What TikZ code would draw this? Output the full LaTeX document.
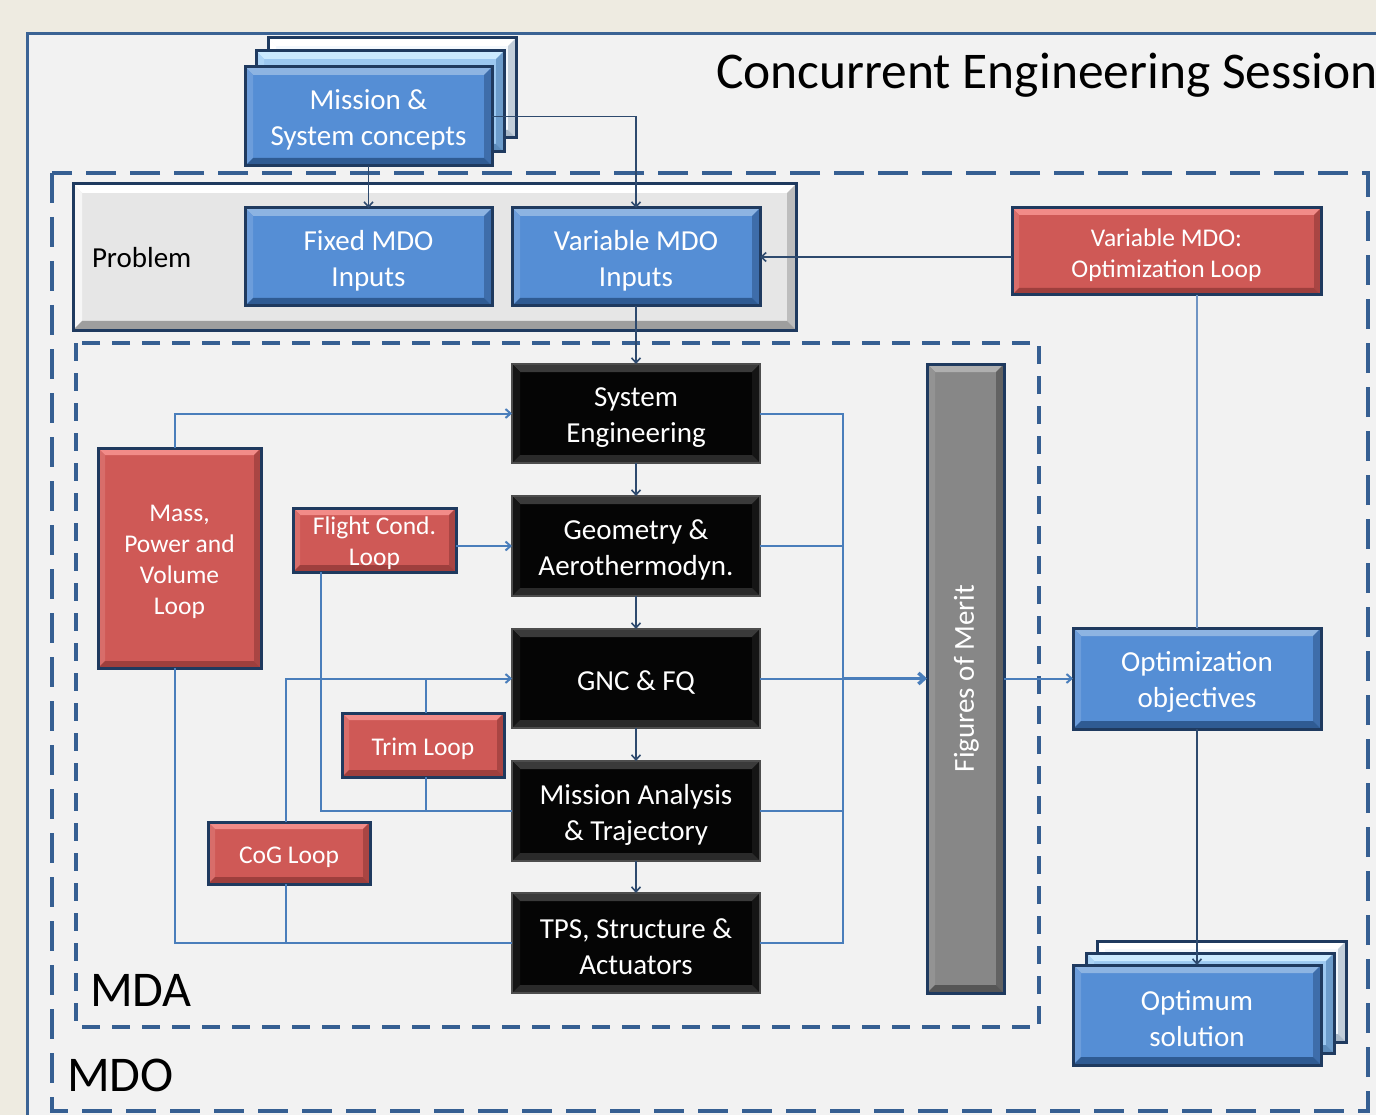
\documentclass[tikz,border=0pt]{standalone}
\usepackage{fontspec}
\setmainfont{Carlito}
\usetikzlibrary{arrows.meta,calc}

\definecolor{bgc}{HTML}{EEEBE1}
\definecolor{panelc}{HTML}{F2F2F2}
\definecolor{framec}{HTML}{3B6394}
\definecolor{dashc}{HTML}{365F92}
\definecolor{navyc}{HTML}{1F3A5F}
\definecolor{bluef}{HTML}{558ED5}
\definecolor{bluet}{HTML}{8DB4E2}
\definecolor{bluel}{HTML}{6C9DDB}
\definecolor{bluer}{HTML}{3E6DAA}
\definecolor{blueb}{HTML}{2F5B93}
\definecolor{redf}{HTML}{CF5956}
\definecolor{redt}{HTML}{F28B88}
\definecolor{redl}{HTML}{D86D6A}
\definecolor{redr}{HTML}{A94543}
\definecolor{redb}{HTML}{9E3F3D}
\definecolor{blkf}{HTML}{050505}
\definecolor{blkt}{HTML}{3A3A3A}
\definecolor{blks}{HTML}{151515}
\definecolor{blkb}{HTML}{2A2A2A}
\definecolor{blkd}{HTML}{4D4D4D}
\definecolor{grayf}{HTML}{878787}
\definecolor{grayt}{HTML}{AFAFAF}
\definecolor{grayl}{HTML}{939393}
\definecolor{grayr}{HTML}{626262}
\definecolor{grayb}{HTML}{565656}
\definecolor{probf}{HTML}{E6E6E6}
\definecolor{probt}{HTML}{FFFFFF}
\definecolor{probl}{HTML}{F6F6F6}
\definecolor{probr}{HTML}{BDBDBD}
\definecolor{probb}{HTML}{9E9E9E}
\definecolor{backf}{HTML}{F3F8FD}
\definecolor{backt}{HTML}{FFFFFF}
\definecolor{backr}{HTML}{C2CEDA}
\definecolor{backb}{HTML}{A9B9C9}
\definecolor{midf}{HTML}{9CC8F0}
\definecolor{midt}{HTML}{CBEAFF}
\definecolor{midl}{HTML}{ACD4F6}
\definecolor{midr}{HTML}{6C9CCB}
\definecolor{midb}{HTML}{5D8CBB}
\definecolor{darkline}{HTML}{2E4A6E}
\definecolor{loopc}{HTML}{4A7EBB}
\definecolor{optc}{HTML}{6F94C4}

\newcommand\mybst{\rule{0pt}{27pt}}
\newcommand\myrst{\rule{0pt}{24.5pt}}

\tikzset{
  bevel/.style n args={5}{path picture={
    \fill[#1] (path picture bounding box.north west) -- (path picture bounding box.north east)
      -- ([xshift=-#5,yshift=-#5]path picture bounding box.north east)
      -- ([xshift=#5,yshift=-#5]path picture bounding box.north west) -- cycle;
    \fill[#2] (path picture bounding box.north west) -- (path picture bounding box.south west)
      -- ([xshift=#5,yshift=#5]path picture bounding box.south west)
      -- ([xshift=#5,yshift=-#5]path picture bounding box.north west) -- cycle;
    \fill[#3] (path picture bounding box.north east) -- (path picture bounding box.south east)
      -- ([xshift=-#5,yshift=#5]path picture bounding box.south east)
      -- ([xshift=-#5,yshift=-#5]path picture bounding box.north east) -- cycle;
    \fill[#4] (path picture bounding box.south west) -- (path picture bounding box.south east)
      -- ([xshift=-#5,yshift=#5]path picture bounding box.south east)
      -- ([xshift=#5,yshift=#5]path picture bounding box.south west) -- cycle;
  }},
  sz/.style 2 args={minimum width=#1pt, minimum height=#2pt},
  boxbase/.style={draw=navyc, line width=3pt, inner sep=0pt, outer sep=0pt, text=white, align=center,
    font=\fontsize{29}{36}\selectfont},
  bluebox/.style={boxbase, fill=bluef, bevel={bluet}{bluel}{bluer}{blueb}{8pt}},
  redbox/.style={boxbase, fill=redf, bevel={redt}{redl}{redr}{redb}{7pt},
    font=\fontsize{25.5}{31}\selectfont},
  blackbox/.style={boxbase, draw=blkd, line width=1.5pt, fill=blkf, bevel={blkt}{blks}{blks}{blkb}{8pt}},
  graybar/.style={boxbase, fill=grayf, bevel={grayt}{grayl}{grayr}{grayb}{8pt}},
  probbox/.style={boxbase, fill=probf, bevel={probt}{probl}{probr}{probb}{9pt}},
  backlayer/.style={boxbase, fill=backf, bevel={backt}{backt}{backr}{backb}{8pt}},
  midlayer/.style={boxbase, fill=midf, bevel={midt}{midl}{midr}{midb}{8pt}},
  plain/.style={inner sep=0pt, outer sep=0pt, text=black},
  tip/.style={-{Straight Barb[length=5pt,width=9pt]}},
  dk/.style={draw=darkline, line width=1.6pt},
  lp/.style={draw=loopc, line width=2pt},
  op/.style={draw=optc, line width=2pt},
  dashbox/.style={draw=dashc, line width=4pt},
}

\begin{document}
\begin{tikzpicture}[x=1pt,y=-1pt]
\clip (0,0) rectangle (1376,1115);
\fill[bgc] (0,0) rectangle (1376,1115);
\draw[draw=framec, fill=panelc, line width=3pt] (27,34) rectangle (1420,1160);
\node[plain, anchor=base west, font=\fontsize{51.5}{60}\selectfont] (title) at (716,89) {Concurrent Engineering Session};

% dashed regions
\draw[dashbox, dash pattern=on 30pt off 14pt] (52,173) rectangle (1368,1111);
\draw[dashbox, dash pattern=on 18pt off 12pt] (76,343) rectangle (1039,1027);
\node[plain, anchor=base west, font=\fontsize{50}{60}\selectfont] (mdolabel) at (67,1091) {MDO};
\node[plain, anchor=base west, font=\fontsize{50}{60}\selectfont] (mdalabel) at (90,1006) {MDA};

% problem area
\node[probbox, sz={723}{146}] (prob) at (434.5,257) {};
\node[plain, anchor=base west, font=\fontsize{29}{36}\selectfont] (problabel) at (92,268) {Problem};

% mission stack
\node[backlayer, sz={248}{100}] (mback) at (392,88) {};
\node[midlayer, sz={248}{101}] (mmid) at (380,101.5) {};
\node[bluebox, sz={247}{99}] (mission) at (368.5,116.5) {\mybst Mission \&\\System concepts};

\node[bluebox, sz={247}{98}] (fixed) at (368.5,257) {\mybst Fixed MDO\\Inputs};
\node[bluebox, sz={248}{98}] (var) at (636,257) {\mybst Variable MDO\\Inputs};
\node[redbox, sz={309}{87}] (optloop) at (1166.5,251.5) {\myrst Variable MDO:\\Optimization Loop};

% MDA chain
\node[blackbox, sz={248}{99}] (se) at (636,413.5) {\mybst System\\Engineering};
\node[blackbox, sz={248}{100}] (geo) at (636,546) {\mybst Geometry \&\\Aerothermodyn.};
\node[blackbox, sz={248}{99}] (gnc) at (636,678.5) {\mybst GNC \& FQ};
\node[blackbox, sz={248}{100}] (mat) at (636,811) {\mybst Mission Analysis\\\& Trajectory};
\node[blackbox, sz={248}{100}] (tps) at (636,943) {\mybst TPS, Structure \&\\Actuators};

\node[graybar, sz={77}{629}] (fom) at (965.5,678.5) {};
\node[plain, text=white, rotate=90, font=\fontsize{29}{36}\selectfont] (fomtext) at ([xshift=1pt]fom.center) {Figures of Merit};

% loops
\node[redbox, sz={163}{220}] (mass) at (179.5,558) {\myrst Mass,\\Power and\\Volume\\Loop};
\node[redbox, sz={163}{64}] (flight) at (374.5,540) {\myrst Flight Cond.\\Loop};
\node[redbox, sz={162}{64}] (trim) at (423,745) {\myrst Trim Loop};
\node[redbox, sz={162}{62}] (cog) at (289,853) {\myrst CoG Loop};

% optimisation side
\node[bluebox, sz={248}{101}] (optobj) at (1197,678.5) {\mybst Optimization\\objectives};
\node[backlayer, sz={249}{101}] (oback) at (1221.5,991.5) {};
\node[midlayer, sz={248}{100}] (omid) at (1210,1003) {};
\node[bluebox, sz={248}{100}] (optimum) at (1197,1015) {\mybst Optimum\\solution};

\coordinate (busx) at (843,0);

% connectors: top
\draw[dk, tip] (mission.south) -- (fixed.north);
\draw[dk, tip] (mission.east) -| (var.north);
\draw[dk, tip] (var.south) -- (se.north);
\draw[dk, tip] (optloop.west |- var.east) -- (var.east);
\draw[op] (optobj.north |- optloop.south) -- (optobj.north);

% chain
\draw[dk, tip] (se.south) -- (geo.north);
\draw[dk, tip] (geo.south) -- (gnc.north);
\draw[dk, tip] (gnc.south) -- (mat.north);
\draw[dk, tip] (mat.south) -- (tps.north);

% right bus
\draw[lp] (se.east) -- (se.east -| busx) -- (tps.east -| busx) -- (tps.east);
\draw[lp] (geo.east) -- (geo.east -| busx);
\draw[lp] (gnc.east) -- (gnc.east -| busx);
\draw[lp] (mat.east) -- (mat.east -| busx);
\draw[draw=loopc, line width=3.5pt, -{Straight Barb[length=6pt,width=11pt]}] (gnc.east -| busx) -- (fom.west);
\draw[lp, tip] (fom.east |- optobj.west) -- (optobj.west);
\draw[dk, tip] (optobj.south) -- (optimum.north);

% left loops
\draw[lp, tip] ([xshift=-4.5pt]mass.north) |- (se.west);
\draw[lp] ([xshift=-4.5pt]mass.south) |- (tps.west);
\draw[lp, tip] (flight.east |- geo.west) -- (geo.west);
\draw[lp] ([xshift=-53.5pt]flight.south) |- (mat.west);
\draw[lp] ([xshift=3pt]trim.north) -- ([xshift=3pt]trim.north |- gnc.west);
\draw[lp] ([xshift=3pt]trim.south) -- ([xshift=3pt]trim.south |- mat.west);
\draw[lp, tip] ([xshift=-3pt]cog.north) |- (gnc.west);
\draw[lp] ([xshift=-3pt]cog.south) -- ([xshift=-3pt]cog.south |- tps.west);
\end{tikzpicture}
\end{document}
